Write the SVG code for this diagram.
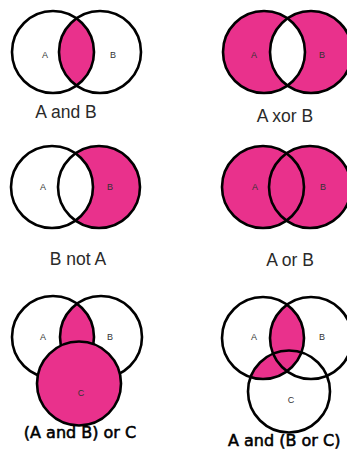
<svg xmlns="http://www.w3.org/2000/svg" width="347" height="452" viewBox="0 0 347 452">
<style>
.o{fill:none;stroke:#000;stroke-width:2.6}
.f{fill:#e9318c}
.w{fill:#fff}
.s{font-family:"Liberation Sans",Arial,sans-serif;font-size:9px;fill:#333;text-anchor:middle}
.t{font-family:"Liberation Sans",Arial,sans-serif;font-size:17.5px;fill:#2a2a2a;text-anchor:middle}
.b{font-family:"DejaVu Sans",Verdana,sans-serif;font-size:16px;fill:#000;stroke:#000;stroke-width:0.55;text-anchor:middle}
</style>
<defs>
<clipPath id="c1"><circle cx="53" cy="52" r="41"/></clipPath>
<clipPath id="c2"><circle cx="264" cy="52" r="41"/></clipPath>
<clipPath id="c3"><circle cx="52" cy="187" r="41"/></clipPath>
<clipPath id="c5"><circle cx="53" cy="337" r="41"/></clipPath>
<clipPath id="c6"><circle cx="263" cy="338" r="41"/></clipPath>
</defs>
<rect width="347" height="452" fill="#fff"/>
<g id="and">
<circle class="f" cx="100" cy="52" r="41" clip-path="url(#c1)"/>
<circle class="o" cx="53" cy="52" r="41"/>
<circle class="o" cx="100" cy="52" r="41"/>
<text class="s" x="45" y="58">A</text><text class="s" x="113" y="58">B</text>
<text class="t" x="66" y="118">A and B</text>
</g>
<g id="xor">
<circle class="f" cx="264" cy="52" r="41"/>
<circle class="f" cx="311" cy="52" r="41"/>
<circle class="w" cx="311" cy="52" r="41" clip-path="url(#c2)"/>
<circle class="o" cx="264" cy="52" r="41"/>
<circle class="o" cx="311" cy="52" r="41"/>
<text class="s" x="254" y="58">A</text><text class="s" x="322" y="58">B</text>
<text class="t" x="285" y="122">A xor B</text>
</g>
<g id="bnota">
<circle class="f" cx="99" cy="187" r="41"/>
<circle class="w" cx="99" cy="187" r="41" clip-path="url(#c3)"/>
<circle class="o" cx="52" cy="187" r="41"/>
<circle class="o" cx="99" cy="187" r="41"/>
<text class="s" x="43" y="190">A</text><text class="s" x="110" y="190">B</text>
<text class="t" x="78" y="265">B not A</text>
</g>
<g id="or">
<circle class="f" cx="263" cy="187" r="41"/>
<circle class="f" cx="310" cy="187" r="41"/>
<circle class="o" cx="263" cy="187" r="41"/>
<circle class="o" cx="310" cy="187" r="41"/>
<text class="s" x="255" y="190">A</text><text class="s" x="323" y="190">B</text>
<text class="t" x="290" y="266">A or B</text>
</g>
<g id="andorc">
<circle class="f" cx="101" cy="337" r="41" clip-path="url(#c5)"/>
<circle class="o" cx="53" cy="337" r="41"/>
<circle class="o" cx="101" cy="337" r="41"/>
<circle class="f" cx="79" cy="383.5" r="42"/>
<circle class="o" cx="79" cy="383.5" r="42"/>
<text class="s" x="43" y="340">A</text><text class="s" x="110" y="340">B</text><text class="s" x="81" y="396">C</text>
<text class="b" x="80" y="438">(A and B) or C</text>
</g>
<g id="aandborc">
<g clip-path="url(#c6)">
<circle class="f" cx="311" cy="338" r="41"/>
<circle class="f" cx="289" cy="391.5" r="41"/>
</g>
<circle class="o" cx="263" cy="338" r="41"/>
<circle class="o" cx="311" cy="338" r="41"/>
<circle class="o" cx="289" cy="391.5" r="41"/>
<text class="s" x="254" y="340">A</text><text class="s" x="322" y="340">B</text><text class="s" x="291" y="403">C</text>
<text class="b" x="228" y="446" style="text-anchor:start">A and (B or C)</text>
</g>
</svg>
